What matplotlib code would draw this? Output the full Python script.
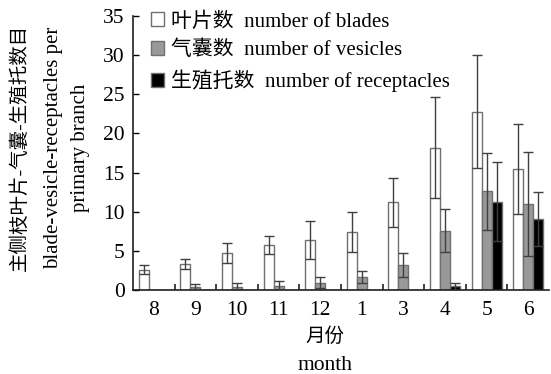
import matplotlib
matplotlib.use("Agg")
import matplotlib.pyplot as plt
import numpy as np

plt.rcParams['font.family'] = ['Liberation Serif', 'Noto Sans CJK SC', 'DejaVu Sans']

months = ['8', '9', '10', '11', '12', '1', '3', '4', '5', '6']
blades = [2.6, 3.3, 4.7, 5.7, 6.4, 7.4, 11.2, 18.2, 22.8, 15.5]
blades_err = [0.55, 0.6, 1.3, 1.15, 2.4, 2.55, 3.15, 6.4, 7.2, 5.75]
vesicles = [0.0, 0.43, 0.43, 0.5, 0.94, 1.7, 3.2, 7.6, 12.6, 11.0]
vesicles_err = [0.0, 0.3, 0.42, 0.6, 0.66, 0.77, 1.5, 2.8, 4.9, 6.6]
receptacles = [0, 0, 0, 0, 0, 0, 0, 0.5, 11.3, 9.1]
receptacles_err = [0, 0, 0, 0, 0, 0, 0, 0.44, 5.0, 3.45]

labels = ['叶片数  number of blades', '气囊数  number of vesicles', '生殖托数  number of receptacles']

fig = plt.figure(figsize=(5.51, 3.74), dpi=100)
ax = fig.add_axes([0.2414, 0.2246, 0.755, 0.7326])

x = np.arange(len(months))
w = 0.24
edge = '#707070'
ekw = dict(ecolor='#404040', elinewidth=1.0, capsize=3.5, capthick=1.0)

def plot_series(offset, vals, errs, color, label):
    vals = np.array(vals, float)
    errs = np.array(errs, float)
    ax.bar(x + offset, vals, w, color=color, edgecolor=edge, linewidth=1.0, label=label, zorder=2)
    mask = vals > 0
    ax.errorbar(x[mask] + offset, vals[mask], yerr=errs[mask], fmt='none', zorder=3, **ekw)

plot_series(-w, blades, blades_err, 'white', labels[0])
plot_series(0, vesicles, vesicles_err, '#999999', labels[1])
plot_series(w, receptacles, receptacles_err, 'black', labels[2])

ax.set_xlim(-0.5, len(months) - 0.5)
ax.set_ylim(0, 35)
ax.set_yticks(np.arange(0, 36, 5))
ax.set_xticks(x)
ax.set_xticklabels(months)
ax.set_xticks(np.arange(0.5, len(months) - 0.5, 1), minor=True)
ax.tick_params(axis='x', which='major', length=0, labelsize=15.5, pad=8)
ax.tick_params(axis='x', which='minor', direction='in', length=4, width=1.2, color='#202020')
ax.tick_params(axis='y', direction='in', length=4, width=1.0, labelsize=15.5, pad=6)
for s in ['top', 'right']:
    ax.spines[s].set_visible(False)
for s in ['left', 'bottom']:
    ax.spines[s].set_linewidth(1.2)
    ax.spines[s].set_color('#202020')

leg = ax.legend(loc='upper left', bbox_to_anchor=(0.013, 1.06), frameon=False, fontsize=15,
                handlelength=0.65, handleheight=0.65, handletextpad=0.3, labelspacing=0.45,
                borderaxespad=0.2)

fig.text(0.59, 0.1, '月份', ha='center', va='center', fontsize=14)
fig.text(0.59, 0.022, 'month', ha='center', va='center', fontsize=15.5)

fig.text(0.036, 0.606, '主侧枝叶片-气囊-生殖托数目', rotation=90, ha='center', va='center', fontsize=14)
fig.text(0.097, 0.606, 'blade-vesicle-receptacles per', rotation=90, ha='center', va='center', fontsize=15)
fig.text(0.147, 0.606, 'primary branch', rotation=90, ha='center', va='center', fontsize=15)

fig.savefig('out.png', dpi=100)
